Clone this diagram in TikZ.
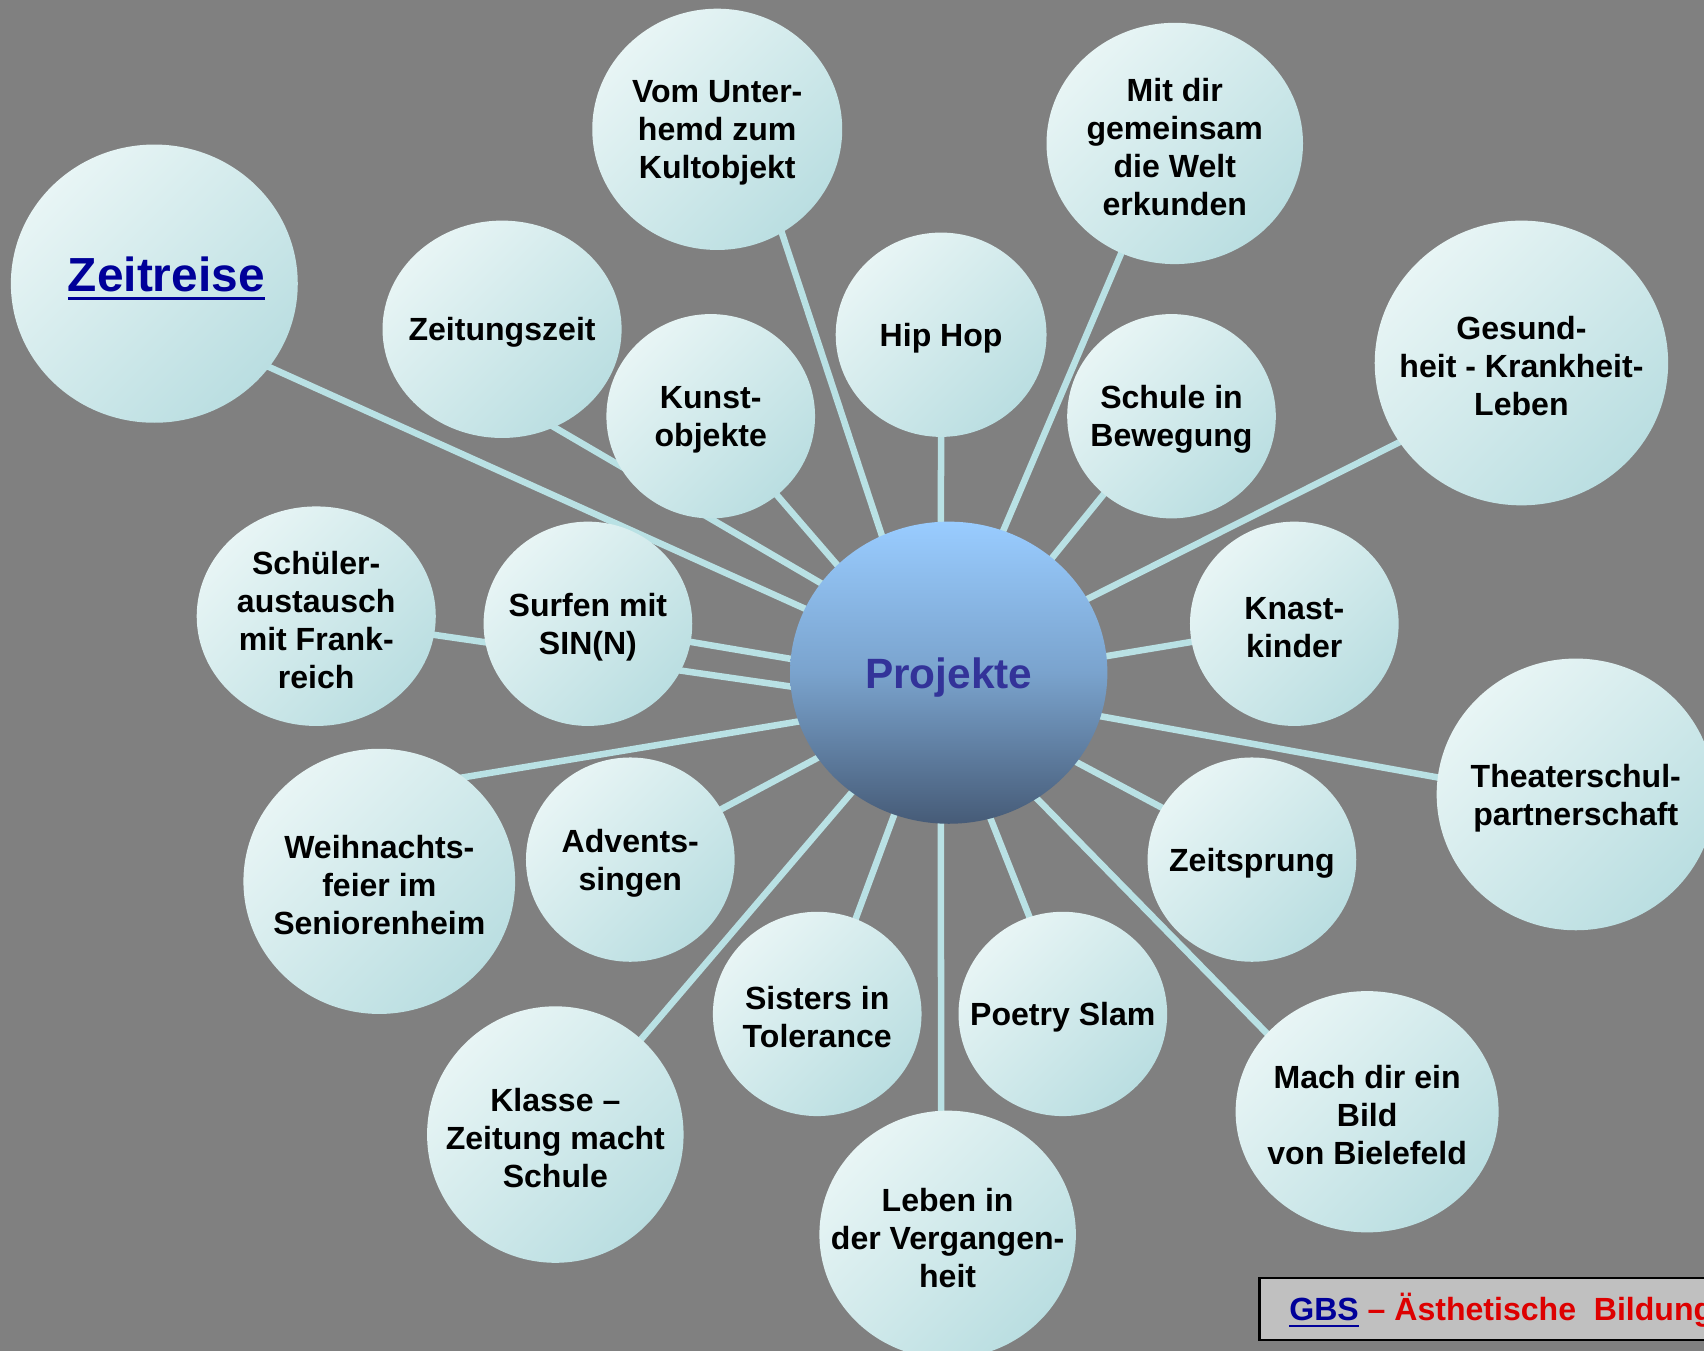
\documentclass[tikz,border=0pt]{standalone}
\usepackage{fontspec}
\setmainfont{Liberation Sans}
\usetikzlibrary{shapes.geometric}
\definecolor{bgc}{HTML}{808080}
\definecolor{connc}{HTML}{B9E1E4}
\definecolor{bubL}{HTML}{E8F5F5}
\definecolor{bubD}{HTML}{BADEE1}
\definecolor{projT}{HTML}{99CCFF}
\definecolor{projM}{HTML}{7AA3CD}
\definecolor{projB}{HTML}{465B77}
\definecolor{projTxt}{HTML}{333399}
\definecolor{linkc}{HTML}{000099}
\definecolor{redc}{HTML}{DD0000}
\definecolor{boxc}{HTML}{C0C0C0}
\pgfdeclarelayer{back}
\pgfdeclarelayer{bg}
\pgfsetlayers{back,bg,main}
\newcommand\ulin[3]{\setbox0=\hbox{#1}\rlap{\rule[-#2]{\wd0}{#3}}\box0}
\newcommand\bubble[6]{%
  \node[bub, minimum width=#4pt, minimum height=#5pt] (#1) at (#2,#3) {};
  \node[lbl] (#1t) at (#1.center) {#6};}
\begin{document}
\begin{tikzpicture}[x=0.5pt,y=-0.5pt,
  bub/.style={ellipse, inner sep=0pt, outer sep=0pt, top color=bubL, bottom color=bubD, shading angle=45},
  lbl/.style={font=\bfseries\fontsize{14.75}{17.5}\selectfont, align=center, inner sep=0pt, text=black, yshift=-1.6pt},
  conn/.style={draw=connc, line width=3pt, shorten <=-2pt, shorten >=-2pt}]
\useasboundingbox (0,0) rectangle (1568,1243);
\begin{pgfonlayer}{back}
  \fill[bgc] (0,0) rectangle (1568,1243);
\end{pgfonlayer}

% centre
\node[ellipse, inner sep=0pt, outer sep=0pt, minimum width=146pt, minimum height=139pt,
  top color=projT, bottom color=projB, middle color=projM] (proj) at (873,619) {};
\node[font=\bfseries\fontsize{19.5}{23}\selectfont, text=projTxt, inner sep=0pt] (projt) at (873,623) {Projekte};

% bubbles
\node[bub, minimum width=132pt, minimum height=128pt] (zeit) at (142,261) {};
\node[font=\bfseries\fontsize{22}{26}\selectfont, text=linkc, inner sep=0pt] (zeitt) at (153,256) {\ulin{Zeitreise}{4.1pt}{1.5pt}};
\bubble{unter}{660}{119}{115}{111}{Vom Unter-\\hemd zum\\Kultobjekt}
\bubble{welt}{1081}{132}{118}{111}{Mit dir\\gemeinsam\\die Welt\\erkunden}
\bubble{zeitung}{462}{303}{110}{100}{Zeitungszeit}
\bubble{hip}{866}{308}{97}{94}{Hip Hop}
\bubble{kunst}{654}{383}{96}{94}{Kunst-\\objekte}
\bubble{schule}{1078}{383}{96}{94}{Schule in\\Bewegung}
\bubble{gesund}{1400}{334}{135}{131}{Gesund-\\heit - Krankheit-\\Leben}
\bubble{austausch}{291}{567}{110}{101}{Schüler-\\austausch\\mit Frank-\\reich}
\bubble{surf}{541}{574}{96}{94}{Surfen mit\\SIN(N)}
\bubble{knast}{1191}{574}{96}{94}{Knast-\\kinder}
\bubble{theater}{1450}{731}{128}{125}{Theaterschul-\\partnerschaft}
\bubble{weih}{349}{811}{125}{122}{Weihnachts-\\feier im\\Seniorenheim}
\bubble{advent}{580}{791}{96}{94}{Advents-\\singen}
\bubble{sprung}{1152}{791}{96}{94}{Zeitsprung}
\bubble{sisters}{752}{933}{96}{94}{Sisters in\\Tolerance}
\bubble{poetry}{978}{933}{96}{94}{Poetry Slam}
\bubble{klasse}{511}{1044}{118}{118}{Klasse –\\Zeitung macht\\Schule}
\bubble{bild}{1258}{1023}{121}{111}{Mach dir ein\\Bild\\von Bielefeld}
\bubble{leben}{872}{1136}{118}{114}{Leben in\\der Vergangen-\\heit}

% connectors
\begin{pgfonlayer}{bg}
\draw[conn] (zeit.-36) -- (proj.156);
\draw[conn] (zeitung.-62) -- (proj.145);
\draw[conn] (kunst.-50) -- (proj.136);
\draw[conn] (unter.-58) -- (proj.116);
\draw[conn] (hip.-90) -- (proj.93);
\draw[conn] (welt.-116) -- (proj.69);
\draw[conn] (schule.-131) -- (proj.48);
\draw[conn] (gesund.-147) -- (proj.28);
\draw[conn] (knast.-170) -- (proj.6);
\draw[conn] (theater.173) -- (proj.-16);
\draw[conn] (sprung.150) -- (proj.-35);
\draw[conn] (bild.142) -- (proj.-55);
\draw[conn] (poetry.109) -- (proj.-74);
\draw[conn] (leben.93) -- (proj.-93);
\draw[conn] (sisters.68) -- (proj.-111);
\draw[conn] (klasse.48) -- (proj.-129);
\draw[conn] (advent.29) -- (proj.-147);
\draw[conn] (weih.51) -- (proj.-162);
\draw[conn] (austausch.-9) -- (proj.-175);
\draw[conn] (surf.-10) -- (proj.175);
\end{pgfonlayer}

% footer box
\node[rectangle, draw=black, line width=1pt, fill=boxc, anchor=north west,
  minimum width=230pt, minimum height=28.5pt, inner sep=0pt] (gbsbox) at (1158,1175) {};
\node[anchor=base west, inner sep=0pt, font=\bfseries\fontsize{14.75}{17.5}\selectfont] (gbst) at (1186,1215)
  {\textcolor{linkc}{\ulin{GBS}{3pt}{1.1pt}}\ \textcolor{redc}{– Ästhetische\ \ Bildung}};
\end{tikzpicture}
\end{document}
